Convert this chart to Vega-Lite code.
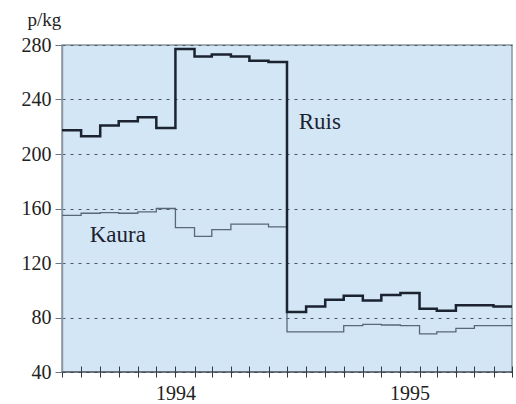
{
  "$schema": "https://vega.github.io/schema/vega-lite/v6.json",
  "width": 450,
  "height": 327,
  "autosize": {"type": "none"},
  "padding": {"left": 62, "top": 45, "right": 4, "bottom": 32},
  "background": "white",
  "config": {
    "view": {"fill": "#d3e6f5", "stroke": "#8c97a3", "strokeWidth": 1.5},
    "font": "'Liberation Serif', 'DejaVu Serif', serif"
  },
  "datasets": {
    "prices": [
      {"date": "1993-07-01", "crop": "Ruis", "price": 217.5},
      {"date": "1993-08-01", "crop": "Ruis", "price": 213},
      {"date": "1993-09-01", "crop": "Ruis", "price": 221},
      {"date": "1993-10-01", "crop": "Ruis", "price": 224},
      {"date": "1993-11-01", "crop": "Ruis", "price": 227},
      {"date": "1993-12-01", "crop": "Ruis", "price": 219},
      {"date": "1994-01-01", "crop": "Ruis", "price": 277},
      {"date": "1994-02-01", "crop": "Ruis", "price": 271.5},
      {"date": "1994-03-01", "crop": "Ruis", "price": 273},
      {"date": "1994-04-01", "crop": "Ruis", "price": 271.5},
      {"date": "1994-05-01", "crop": "Ruis", "price": 268.5},
      {"date": "1994-06-01", "crop": "Ruis", "price": 267.5},
      {"date": "1994-07-01", "crop": "Ruis", "price": 84},
      {"date": "1994-08-01", "crop": "Ruis", "price": 88},
      {"date": "1994-09-01", "crop": "Ruis", "price": 93},
      {"date": "1994-10-01", "crop": "Ruis", "price": 96},
      {"date": "1994-11-01", "crop": "Ruis", "price": 92.5},
      {"date": "1994-12-01", "crop": "Ruis", "price": 96.5},
      {"date": "1995-01-01", "crop": "Ruis", "price": 98},
      {"date": "1995-02-01", "crop": "Ruis", "price": 86.5},
      {"date": "1995-03-01", "crop": "Ruis", "price": 85},
      {"date": "1995-04-01", "crop": "Ruis", "price": 89},
      {"date": "1995-05-01", "crop": "Ruis", "price": 89},
      {"date": "1995-06-01", "crop": "Ruis", "price": 88},
      {"date": "1995-07-01", "crop": "Ruis", "price": 88},
      {"date": "1993-07-01", "crop": "Kaura", "price": 155},
      {"date": "1993-08-01", "crop": "Kaura", "price": 156.5},
      {"date": "1993-09-01", "crop": "Kaura", "price": 157},
      {"date": "1993-10-01", "crop": "Kaura", "price": 156.5},
      {"date": "1993-11-01", "crop": "Kaura", "price": 157.5},
      {"date": "1993-12-01", "crop": "Kaura", "price": 160},
      {"date": "1994-01-01", "crop": "Kaura", "price": 146},
      {"date": "1994-02-01", "crop": "Kaura", "price": 139.5},
      {"date": "1994-03-01", "crop": "Kaura", "price": 144.5},
      {"date": "1994-04-01", "crop": "Kaura", "price": 148.5},
      {"date": "1994-05-01", "crop": "Kaura", "price": 148.5},
      {"date": "1994-06-01", "crop": "Kaura", "price": 146.5},
      {"date": "1994-07-01", "crop": "Kaura", "price": 69.5},
      {"date": "1994-08-01", "crop": "Kaura", "price": 69.5},
      {"date": "1994-09-01", "crop": "Kaura", "price": 69.5},
      {"date": "1994-10-01", "crop": "Kaura", "price": 74},
      {"date": "1994-11-01", "crop": "Kaura", "price": 75},
      {"date": "1994-12-01", "crop": "Kaura", "price": 74.5},
      {"date": "1995-01-01", "crop": "Kaura", "price": 74},
      {"date": "1995-02-01", "crop": "Kaura", "price": 68},
      {"date": "1995-03-01", "crop": "Kaura", "price": 69.5},
      {"date": "1995-04-01", "crop": "Kaura", "price": 72},
      {"date": "1995-05-01", "crop": "Kaura", "price": 74},
      {"date": "1995-06-01", "crop": "Kaura", "price": 74},
      {"date": "1995-07-01", "crop": "Kaura", "price": 74}
    ],
    "labels": [
      {"date": "1994-07-20", "price": 223.5, "name": "Ruis"},
      {"date": "1993-08-15", "price": 140.5, "name": "Kaura"}
    ]
  },
  "layer": [
    {
      "data": {"name": "prices"},
      "transform": [{"filter": "datum.crop === 'Kaura'"}],
      "mark": {"type": "line", "interpolate": "step-after", "color": "#58677b", "strokeWidth": 1.3},
      "encoding": {
        "x": {
          "field": "date", "type": "temporal",
          "scale": {"domain": ["1993-07-01", "1995-07-01"], "nice": false},
          "axis": {
            "title": null,
            "grid": false,
            "domain": false,
            "offset": -6,
            "tickCount": {"interval": "month", "step": 1},
            "tickSize": 11,
            "tickColor": "#333a44",
            "tickWidth": 1,
            "labelExpr": "month(datum.value) === 0 ? timeFormat(datum.value, '%Y') : ''",
            "labelFont": "'Liberation Serif', 'DejaVu Serif', serif",
            "labelFontSize": 20,
            "labelColor": "#222",
            "labelPadding": 6,
            "labelBaseline": "top",
            "labelFlush": false,
            "labelOverlap": false,
            "labelOffset": {"condition": {"test": "year(datum.value) === 1995", "value": 9}, "value": 0}
          }
        },
        "y": {
          "field": "price", "type": "quantitative",
          "scale": {"domain": [40, 280], "nice": false, "zero": false},
          "axis": {
            "title": "p/kg",
            "titleAngle": 0,
            "titleAlign": "left",
            "titleBaseline": "alphabetic",
            "titleX": -35,
            "titleY": -20,
            "titleFont": "'Liberation Serif', 'DejaVu Serif', serif",
            "titleFontSize": 19,
            "titleFontWeight": "normal",
            "titleColor": "#222",
            "values": [40, 80, 120, 160, 200, 240, 280],
            "grid": true,
            "gridColor": "#4a5666",
            "gridDash": [3, 5],
            "gridWidth": 1,
            "domain": true,
            "domainColor": "#8c97a3",
            "domainWidth": 1.5,
            "tickSize": 7,
            "tickColor": "#6b7684",
            "labelFont": "'Liberation Serif', 'DejaVu Serif', serif",
            "labelFontSize": 20,
            "labelColor": "#222",
            "labelPadding": 4
          }
        }
      }
    },
    {
      "data": {"name": "prices"},
      "transform": [{"filter": "datum.crop === 'Ruis'"}],
      "mark": {"type": "line", "interpolate": "step-after", "color": "#1b2230", "strokeWidth": 2.5},
      "encoding": {
        "x": {"field": "date", "type": "temporal"},
        "y": {"field": "price", "type": "quantitative"}
      }
    },
    {
      "data": {"name": "labels"},
      "mark": {"type": "text", "align": "left", "baseline": "middle", "font": "'Liberation Serif', 'DejaVu Serif', serif", "fontSize": 23, "color": "#1b2230"},
      "encoding": {
        "x": {"field": "date", "type": "temporal"},
        "y": {"field": "price", "type": "quantitative"},
        "text": {"field": "name"}
      }
    },
    {
      "data": {"values": [{"v": 40}]},
      "mark": {"type": "rule", "color": "#333a44", "strokeWidth": 1.2},
      "encoding": {"y": {"field": "v", "type": "quantitative"}}
    }
  ]
}
